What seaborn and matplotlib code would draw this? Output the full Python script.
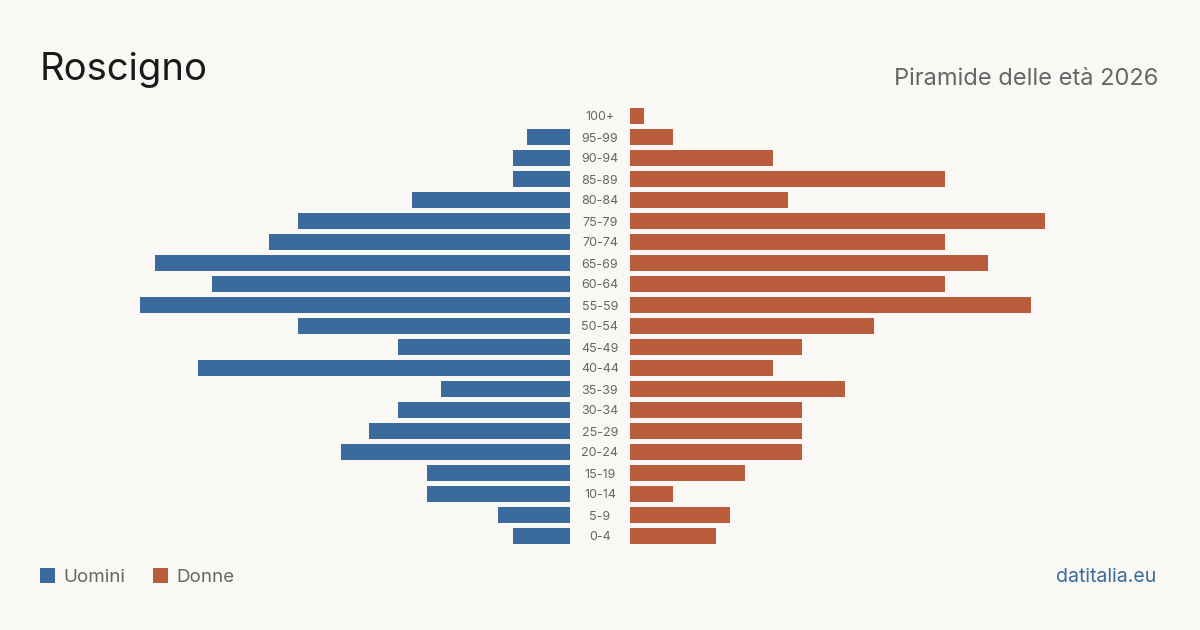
import matplotlib
matplotlib.use("Agg")
import matplotlib.pyplot as plt
import seaborn as sns
import pandas as pd
from matplotlib.patches import Rectangle

ages = ["100+", "95-99", "90-94", "85-89", "80-84", "75-79", "70-74", "65-69",
        "60-64", "55-59", "50-54", "45-49", "40-44", "35-39", "30-34", "25-29",
        "20-24", "15-19", "10-14", "5-9", "0-4"]
men = [0, 3, 4, 4, 11, 19, 21, 29, 25, 30, 19, 12, 26, 9, 12, 14, 16, 10, 10, 5, 4]
women = [1, 3, 10, 22, 11, 29, 22, 25, 22, 28, 17, 12, 10, 15, 12, 12, 12, 8, 3, 7, 6]

title = "Roscigno"
subtitle = "Piramide delle età 2026"
legend_labels = ["Uomini", "Donne"]
source = "datitalia.eu"

BG = "#f9f8f4"
BLUE = "#3a6b9c"
ORANGE = "#b85c3c"
GREY = "#666666"

sns.set_theme(style="white")
plt.rcParams["font.family"] = ["Inter", "DejaVu Sans"]

df = pd.DataFrame({"age": ages, "men": men, "women": women})

W, H = 1200, 630
fig = plt.figure(figsize=(12, 6.3), dpi=100, facecolor=BG)

top_px, bot_px = 105.5, 546.5
b = 1 - bot_px / H
h = (bot_px - top_px) / H
ax_l = fig.add_axes([40 / W, b, 530 / W, h])
ax_r = fig.add_axes([630 / W, b, 530 / W, h])

xmax = 37
sns.barplot(data=df, x="men", y="age", order=ages, color=BLUE, width=0.8,
            saturation=1, linewidth=0, edgecolor="none", ax=ax_l)
sns.barplot(data=df, x="women", y="age", order=ages, color=ORANGE, width=0.8,
            saturation=1, linewidth=0, edgecolor="none", ax=ax_r)

for ax in (ax_l, ax_r):
    ax.set_facecolor(BG)
    ax.set_xlim(0, xmax)
    ax.set_ylim(len(ages) - 0.5, -0.5)
    ax.set_xlabel("")
    ax.set_ylabel("")
    ax.set_xticks([])
    for s in ax.spines.values():
        s.set_visible(False)

ax_l.invert_xaxis()
ax_l.set_yticks([])

ax_r.set_yticks(range(len(ages)))
ax_r.set_yticklabels(ages, fontsize=9, color=GREY)
ax_r.tick_params(axis="y", length=0, pad=21.6)
for lbl in ax_r.get_yticklabels():
    lbl.set_horizontalalignment("center")

fig.text(40 / W, 1 - 80 / H, title, fontsize=27.5, color="#1a1a1a",
         ha="left", va="baseline")
fig.text(1158 / W, 1 - 85 / H, subtitle, fontsize=17, color=GREY,
         ha="right", va="baseline")

# legend
colors = [BLUE, ORANGE]
xs = [40, 153]
for x, c, lab in zip(xs, colors, legend_labels):
    fig.patches.append(Rectangle((x / W, 1 - 583 / H), 15 / W, 15 / H,
                                 transform=fig.transFigure, facecolor=c,
                                 edgecolor="none"))
    fig.text((x + 23) / W, 1 - 578 / H, lab, fontsize=13.5, color=GREY,
             ha="left", va="center")

fig.text(1156 / W, 1 - 577 / H, source, fontsize=14, color=BLUE,
         ha="right", va="center")

fig.savefig("out.png", dpi=100, facecolor=BG)
